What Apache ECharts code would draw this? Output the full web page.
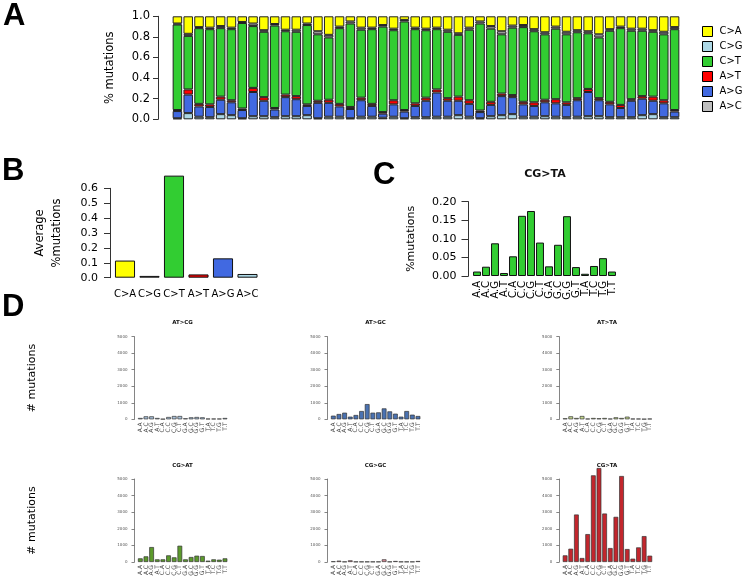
<!DOCTYPE html>
<html><head><meta charset="utf-8">
<script src="https://cdn.jsdelivr.net/npm/echarts@6/dist/echarts.min.js"></script>
<style>html,body{margin:0;padding:0;background:#fff}#c{width:744px;height:587px}</style>
</head><body><div id="c"></div>
<script>
// ---------- DATA ----------
const samples = ['1','2','3','4','5','6','7','8','9','10','11','12','13','14','15','16','17','18','19','20','21','22','23','24','25','26','27','28','29','30','31','32','33','34','35','36','37','38','39','40','41','42','43','44','45','46','47'];
// Panel A, stacked from bottom to top (names follow the legend of the figure)
const aLightBlue = [0.01,0.06,0.025,0.02,0.05,0.04,0.01,0.03,0.03,0.02,0.03,0.03,0.04,0.01,0.025,0.025,0.01,0.025,0.025,0.015,0.025,0.01,0.02,0.02,0.025,0.025,0.04,0.025,0.01,0.03,0.04,0.05,0.025,0.025,0.03,0.025,0.02,0.025,0.03,0.03,0.02,0.02,0.02,0.04,0.05,0.02,0.02];
const aBlue = [0.07,0.18,0.10,0.10,0.14,0.125,0.08,0.235,0.15,0.075,0.185,0.165,0.09,0.15,0.135,0.10,0.09,0.16,0.105,0.04,0.12,0.065,0.11,0.16,0.235,0.155,0.14,0.125,0.06,0.11,0.185,0.165,0.12,0.105,0.135,0.13,0.12,0.16,0.235,0.155,0.125,0.09,0.16,0.16,0.13,0.135,0.055];
const aRed = [0.01,0.05,0.025,0.025,0.03,0.02,0.015,0.04,0.035,0.015,0.025,0.03,0.015,0.02,0.03,0.025,0.02,0.025,0.02,0.015,0.04,0.015,0.025,0.03,0.03,0.025,0.04,0.035,0.015,0.03,0.025,0.02,0.025,0.035,0.025,0.04,0.025,0.02,0.03,0.02,0.025,0.03,0.015,0.025,0.04,0.03,0.015];
const aGreen = [0.83,0.52,0.735,0.73,0.665,0.69,0.83,0.60,0.635,0.80,0.615,0.625,0.77,0.645,0.605,0.735,0.81,0.66,0.725,0.83,0.68,0.86,0.72,0.655,0.585,0.645,0.60,0.685,0.845,0.71,0.575,0.655,0.725,0.69,0.635,0.685,0.66,0.64,0.54,0.59,0.69,0.745,0.665,0.635,0.63,0.64,0.785];
const aGray = [0.01,0.02,0.01,0.015,0.02,0.015,0.01,0.025,0.015,0.015,0.015,0.02,0.015,0.03,0.025,0.015,0.02,0.02,0.015,0.015,0.015,0.015,0.015,0.015,0.015,0.02,0.015,0.02,0.02,0.025,0.03,0.02,0.02,0.02,0.02,0.02,0.025,0.02,0.02,0.03,0.015,0.015,0.02,0.02,0.015,0.025,0.02];
const aYellow = [0.07,0.17,0.105,0.11,0.095,0.11,0.055,0.07,0.135,0.075,0.13,0.13,0.07,0.145,0.18,0.10,0.05,0.11,0.11,0.085,0.12,0.035,0.11,0.12,0.11,0.13,0.165,0.11,0.05,0.095,0.145,0.09,0.085,0.125,0.155,0.10,0.15,0.135,0.145,0.175,0.125,0.10,0.12,0.12,0.135,0.15,0.105];
const legendLabels = ['C>A','C>G','C>T','A>T','A>G','A>C'];

// Panel B
const typeLabels = ['C>A','C>G','C>T','A>T','A>G','A>C'];
const avgMutations = [0.115,0.012,0.685,0.022,0.13,0.025];

// Panel C
const contexts = ['A.A','A.C','A.G','A.T','C.A','C.C','C.G','C.T','G.A','G.C','G.G','G.T','T.A','T.C','T.G','T.T'];
const cgtaFraction = [0.012,0.025,0.088,0.008,0.053,0.162,0.175,0.090,0.026,0.084,0.161,0.024,0.006,0.027,0.048,0.012];

// Panel D
const dTitles = ['AT>CG','AT>GC','AT>TA','CG>AT','CG>GC','CG>TA'];
const countsATCG = [80,180,180,80,20,140,200,200,60,120,140,120,40,40,40,80];
const countsATGC = [220,320,400,160,260,500,920,400,420,660,480,340,160,500,280,200];
const countsATTA = [60,180,80,200,40,80,60,80,40,120,80,160,40,40,20,40];
const countsCGAT = [220,340,900,160,160,400,280,980,160,300,380,360,80,160,140,220];
const countsCGGC = [40,80,20,100,20,20,20,20,20,160,20,60,20,20,20,60];
const countsCGTA = [400,800,2860,240,1680,5220,5660,2920,840,2720,5180,780,200,880,1560,380];

// ---------- STYLE ----------
const FONT = 'DejaVu Sans';
const colA = {yellow:'#FFFF00', lightblue:'#ADD8E6', green:'#32CD32', red:'#FF0000', blue:'#4169E1', gray:'#BEBEBE'};
const colB = ['#FFFF00','#BEBEBE','#32CD32','#FF0000','#4169E1','#ADD8E6'];
const colD = ['#a9c2dc','#4a72b2','#c6da8e','#5c9a2c','#e3909c','#c3262d'];

const chart = echarts.init(document.getElementById('c'));

const grids = [
  {left:172, top:16.3, width:508, height:103},       // A
  {left:112.75, top:188.3, width:147, height:89.4},  // B
  {left:472.5, top:201.7, width:144, height:74.3},   // C
  {left:137.5, top:336.7, width:90.3, height:82.6},  // D1
  {left:330.5, top:336.7, width:90.3, height:82.6},  // D2
  {left:562.3, top:336.7, width:90.3, height:82.6},  // D3
  {left:137.5, top:479, width:90.3, height:83},      // D4
  {left:330.5, top:479, width:90.3, height:83},      // D5
  {left:562.3, top:479, width:90.3, height:83}       // D6
];

const xAxes = [
  {gridIndex:0, type:'category', data:samples, axisLine:{show:false}, axisTick:{show:false}, axisLabel:{show:false}},
  {gridIndex:1, type:'category', data:typeLabels, axisLine:{show:false}, axisTick:{show:false},
    axisLabel:{interval:0, fontSize:10, margin:12, color:'#000', fontFamily:FONT}},
  {gridIndex:2, type:'category', data:contexts, axisLine:{show:false}, axisTick:{show:false},
    axisLabel:{interval:0, rotate:90, fontSize:10, margin:5, color:'#000', fontFamily:FONT}}
];
const yAxes = [
  {gridIndex:0, type:'value', min:0, max:1, interval:0.2, offset:14, name:'% mutations', nameLocation:'middle', nameGap:42, nameRotate:90,
    nameTextStyle:{fontSize:11.5, color:'#000', fontFamily:FONT},
    axisLine:{show:true, lineStyle:{color:'#333'}}, axisTick:{show:true, length:5, lineStyle:{color:'#333'}},
    splitLine:{show:false}, axisLabel:{fontSize:11.5, margin:8, color:'#000', fontFamily:FONT, formatter:v=>v.toFixed(1)}},
  {gridIndex:1, type:'value', min:0, max:0.6, interval:0.1, offset:2.75, name:'Average\n%mutations', nameLocation:'middle', nameGap:44, nameRotate:90,
    nameTextStyle:{fontSize:11.5, color:'#000', fontFamily:FONT, lineHeight:17},
    axisLine:{show:true, lineStyle:{color:'#333'}}, axisTick:{show:true, length:6, lineStyle:{color:'#333'}},
    splitLine:{show:false}, axisLabel:{fontSize:11, margin:12, color:'#000', fontFamily:FONT, formatter:v=>v.toFixed(1)}},
  {gridIndex:2, type:'value', min:0, max:0.2, interval:0.05, offset:4, name:'%mutations', nameLocation:'middle', nameGap:52, nameRotate:90,
    nameTextStyle:{fontSize:11, color:'#000', fontFamily:FONT},
    axisLine:{show:true, lineStyle:{color:'#333'}}, axisTick:{show:true, length:7, lineStyle:{color:'#333'}},
    splitLine:{show:false}, axisLabel:{fontSize:11, margin:12, color:'#000', fontFamily:FONT, formatter:v=>v.toFixed(2)}}
];
for (let i = 0; i < 6; i++) {
  const gi = 3 + i;
  xAxes.push({gridIndex:gi, type:'category', data:contexts, axisLine:{show:false}, axisTick:{show:false},
    axisLabel:{interval:0, rotate:90, fontSize:6, margin:3, color:'#444', fontFamily:FONT}});
  const y = {gridIndex:gi, type:'value', min:0, max:5000, interval:1000, offset:3,
    axisLine:{show:true, lineStyle:{color:'#666', width:0.8}}, axisTick:{show:true, length:3, lineStyle:{color:'#666', width:0.8}},
    splitLine:{show:false}, axisLabel:{fontSize:4, margin:7, color:'#555', fontFamily:FONT, formatter:v=>String(v)}};
  if (i % 3 === 0) {
    Object.assign(y, {name:'# mutations', nameLocation:'middle', nameGap:97, nameRotate:90,
      nameTextStyle:{fontSize:11, color:'#000', fontFamily:FONT}});
  }
  yAxes.push(y);
}

const stackA = [
  {name:'C>G', data:aLightBlue, color:colA.lightblue},
  {name:'A>G', data:aBlue, color:colA.blue},
  {name:'A>T', data:aRed, color:colA.red},
  {name:'C>T', data:aGreen, color:colA.green},
  {name:'A>C', data:aGray, color:colA.gray},
  {name:'C>A', data:aYellow, color:colA.yellow}
];
const series = stackA.map(s => ({
  name:s.name, type:'bar', stack:'a', xAxisIndex:0, yAxisIndex:0, data:s.data, barCategoryGap:'12%',
  itemStyle:{color:s.color, borderColor:'#222', borderWidth:1}, emphasis:{disabled:true}
}));
series.push({
  name:'avg', type:'bar', xAxisIndex:1, yAxisIndex:1, data:avgMutations, barCategoryGap:'18%', clip:false,
  itemStyle:{color:p=>colB[p.dataIndex], borderColor:'#111', borderWidth:1}
});
series.push({
  name:'cgta', type:'bar', xAxisIndex:2, yAxisIndex:2, data:cgtaFraction, barCategoryGap:'12%', clip:false,
  itemStyle:{color:'#32CD32', borderColor:'#111', borderWidth:1}
});
const dData = [countsATCG, countsATGC, countsATTA, countsCGAT, countsCGGC, countsCGTA];
dData.forEach((d, i) => {
  series.push({
    name:dTitles[i], type:'bar', xAxisIndex:3+i, yAxisIndex:3+i, data:d, barCategoryGap:'16%', clip:false,
    itemStyle:{color:colD[i], borderColor:'#333', borderWidth:0.7}
  });
});

const letter = (t, l, tp) => ({text:t, left:l, top:tp, padding:0,
  textStyle:{fontSize:31, fontWeight:'bold', color:'#000', fontFamily:'Liberation Sans'}});
const subTitle = (t, cx, tp, fs) => ({text:t, left:cx, top:tp, padding:0, textAlign:'center',
  textStyle:{fontSize:fs, fontWeight:'bold', color:'#111', fontFamily:FONT}});

chart.setOption({
  animation:false,
  backgroundColor:'#fff',
  textStyle:{fontFamily:FONT},
  title:[
    letter('A', 3, 1), letter('B', 2, 156), letter('C', 373, 160), letter('D', 2, 292),
    subTitle('CG>TA', 545, 169, 11),
    subTitle(dTitles[0], 182.5, 320, 5.5), subTitle(dTitles[1], 375.5, 320, 5.5), subTitle(dTitles[2], 607, 320, 5.5),
    subTitle(dTitles[3], 182.5, 463, 5.5), subTitle(dTitles[4], 375.5, 463, 5.5), subTitle(dTitles[5], 607, 463, 5.5)
  ],
  legend:{
    data:legendLabels, orient:'vertical', left:702, top:26, padding:0, itemWidth:10, itemHeight:10, itemGap:4,
    icon:'rect', textStyle:{fontSize:10, lineHeight:10, color:'#000', fontFamily:FONT, padding:[0,0,0,2]}, selectedMode:false,
    itemStyle:{borderColor:'#000', borderWidth:1}
  },
  grid:grids,
  xAxis:xAxes,
  yAxis:yAxes,
  series:series
});
</script>
</body></html>
